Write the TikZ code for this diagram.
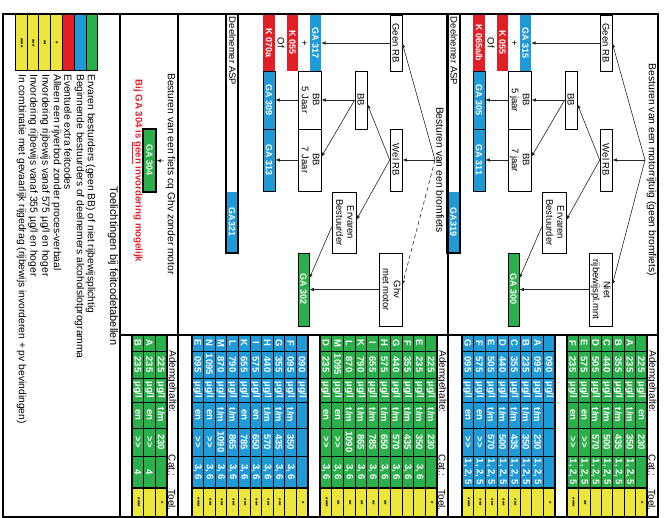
\documentclass[tikz,border=0pt]{standalone}
\usepackage{fontspec}
\setmainfont{Liberation Sans}
\usepackage{graphicx}
\usetikzlibrary{arrows.meta}
\definecolor{cgreen}{RGB}{42,176,74}
\definecolor{cblue}{RGB}{30,155,214}
\definecolor{cred}{RGB}{226,30,38}
\definecolor{cyel}{RGB}{236,230,58}
\definecolor{cnote}{RGB}{232,32,42}
\newcommand{\R}[1]{\rotatebox{-90}{#1}}
\newcommand{\RR}[2]{\rotatebox{-90}{\begin{tabular}{@{}c@{}}#1\\#2\end{tabular}}}
\newcommand{\ugl}{µg/l}
\newcommand{\tmm}{t/m}
\newcommand{\grt}{>{}>}
\newcommand{\cA}{1, 2, 5}
\newcommand{\cB}{3, 6}
\newcommand{\X}{}
\newcounter{rc}
\newcommand{\tR}{0}
\newcommand{\tw}{0}
\newcommand{\tcol}{cgreen}
\newcommand{\trow}[8]{%
 \stepcounter{rc}%
 \pgfmathsetmacro{\cx}{\tR-(#1-0.5)*\tw}%
 \fill[\tcol] ({\cx-\tw/2},335) rectangle ({\cx+\tw/2},488);
 \fill[cyel] ({\cx-\tw/2},488) rectangle ({\cx+\tw/2},517);
 \node[tc] (r\arabic{rc}a) at (\cx,343) {\R{#2}};
 \node[tc] (r\arabic{rc}b) at (\cx,364.5) {\R{#3}};
 \node[tc] (r\arabic{rc}c) at (\cx,390) {\R{#4}};
 \node[tc] (r\arabic{rc}d) at (\cx,415) {\R{#5}};
 \node[tc] (r\arabic{rc}e) at (\cx,442) {\R{#6}};
 \node[tc] (r\arabic{rc}f) at (\cx,472) {\R{#7}};
 \node[ts] (r\arabic{rc}g) at (\cx,502.5) {\R{#8}};
}
\newcommand{\tgrid}[3]{%
 \foreach \k in {0,...,#3} {\draw[gl] ({#1+\k*(#2-#1)/#3},335) -- ({#1+\k*(#2-#1)/#3},517);}
 \foreach \yy in {351,378,402,428,456} {\draw[gl] (#1,\yy) -- (#2,\yy);}
 \draw[gt] (#1,488) -- (#2,488);
 \draw[gt] (#1,335) rectangle (#2,517);
}
\newcommand{\thead}[2]{%
 \node[hd] (#1a) at (#2,381.5) {\R{Ademgehalte:}};
 \node[hd] (#1b) at (#2,465.5) {\R{Cat.:}};
 \node[hd] (#1c) at (#2,500) {\R{Toel.}};
}
\begin{document}
\begin{tikzpicture}[x=1pt,y=-1pt,
 bx/.style={draw=black, line width=0.6pt, fill=white, inner sep=0pt, font=\fontsize{9.5}{11}\selectfont},
 cellf/.style={inner sep=0pt, text=white, font=\bfseries\fontsize{9}{10}\selectfont},
 gcell/.style={cellf, fill=cgreen, draw=black, line width=0.5pt},
 bcell/.style={cellf, fill=cblue},
 rcell/.style={cellf, fill=cred},
 wcell/.style={inner sep=0pt, font=\fontsize{9.5}{11}\selectfont},
 arr/.style={-{Latex[length=4.5pt,width=3.5pt]}, line width=0.6pt, draw=black!85},
 frame/.style={line width=1.5pt},
 ttl/.style={font=\fontsize{10.3}{12}\selectfont, inner sep=0pt},
 tc/.style={inner sep=0pt, text=white, font=\bfseries\fontsize{9.5}{10}\selectfont},
 ts/.style={inner sep=0pt, font=\bfseries\fontsize{6}{7}\selectfont},
 hd/.style={inner sep=0pt, font=\fontsize{10}{12}\selectfont},
 gl/.style={line width=0.7pt},
 gt/.style={line width=1.2pt},
 lbar/.style={draw=black, line width=1pt, inner sep=0pt, font=\bfseries\fontsize{6}{7}\selectfont},
 lt/.style={anchor=north, inner sep=0pt, font=\fontsize{10.3}{12}\selectfont}
]
\useasboundingbox (0,0) rectangle (669,518);

% ================= motorrijtuig =================
\node[ttl] (mt) at (651.5,170) {\R{Besturen van een motorrijtuig (geen bromfiets)}};
\coordinate (mo) at (645,160);
\node[bx, minimum width=12, minimum height=56] (mgeen) at (606,43) {\R{Geen RB}};
\node[bx, minimum width=12, minimum height=62] (mwel) at (606,160) {\R{Wel RB}};
\node[bx, minimum width=12, minimum height=58] (mbb) at (571,100) {\R{BB}};
\node[bx, minimum width=24, minimum height=61] (merv) at (554,222.5) {\RR{Ervaren}{Bestuurder}};
\node[bx, minimum width=23, minimum height=73] (mniet) at (600.5,289.5) {\RR{Niet}{rijbewijspl.mnt}};
\node[gcell, minimum width=11, minimum height=73] (mga300) at (513.5,289.5) {\R{GA 300}};
\node[bx, minimum width=23, minimum height=58] (mbb5) at (519.5,100) {\RR{BB}{5 jaar}};
\node[bx, minimum width=23, minimum height=62] (mbb7) at (519.5,160) {\RR{BB}{7 jaar}};
\node[bcell, minimum width=11, minimum height=56] (mga315) at (525.5,43) {\R{GA 315}};
\node[wcell, minimum width=12, minimum height=56] (mplus) at (514,43) {\R{+}};
\node[rcell, minimum width=11, minimum height=56] (mk055) at (502.5,43) {\R{K 055}};
\node[wcell, minimum width=12, minimum height=56] (mof) at (491,43) {\R{Of}};
\node[rcell, minimum width=12, minimum height=56] (mk065) at (479,43) {\R{K 065a/b}};
\node[bcell, draw=black, line width=0.5pt, minimum width=12, minimum height=58] (mga305) at (479,100) {\R{GA 305}};
\node[bcell, draw=black, line width=0.5pt, minimum width=12, minimum height=62] (mga311) at (479,160) {\R{GA 311}};
\draw[arr] (mo) -- (mgeen.east);
\draw[arr] (mo) -- (mwel.east);
\draw[arr] (mo) -- ([yshift=4.5pt]mniet.east);
\draw[arr] (mgeen.west) -- (mga315.east);
\draw[arr] (mwel.west) -- ([yshift=-4pt]mbb.east);
\draw[arr] (mwel.west) -- ([yshift=2.5pt]merv.east);
\draw[arr] (mbb.west) -- (mbb5.east);
\draw[arr] (mbb.west) -- ([yshift=3pt]mbb7.east);
\draw[arr] (mbb5.west) -- (mga305.east);
\draw[arr] (mbb7.west) -- (mga311.east);
\draw[arr] ([yshift=-4.5pt]merv.west) -- ([yshift=11pt]mga300.east);
\draw[arr] (mniet.west) -- (mga300.east);
\node[bcell, minimum width=12, minimum height=60] (mga319) at (453.5,222) {\R{GA319}};
\node[draw, line width=1.3pt, minimum width=13, minimum height=239, inner sep=0pt] (mdn) at (453.5,133.5) {};
\node[wcell] (mdnt) at (454,51) {\R{Deelnemer ASP}};

% ================= bromfiets =================
\node[ttl] (bt) at (440,170) {\R{Besturen van een bromfiets}};
\coordinate (bo) at (435,160);
\node[bx, minimum width=12, minimum height=56] (bgeen) at (396,43) {\R{Geen RB}};
\node[bx, minimum width=12, minimum height=62] (bwel) at (396,160) {\R{Wel RB}};
\node[bx, minimum width=12, minimum height=58] (bbb) at (361,100) {\R{BB}};
\node[bx, minimum width=24, minimum height=61] (berv) at (344,222.5) {\RR{Ervaren}{Bestuurder}};
\node[bx, minimum width=23, minimum height=73] (bghv) at (390.5,289.5) {\RR{Ghv}{met motor}};
\node[gcell, minimum width=11, minimum height=73] (bga302) at (303.5,289.5) {\R{GA 302}};
\node[bx, minimum width=23, minimum height=58] (bbb5) at (309.5,100) {\RR{BB}{5 Jaar}};
\node[bx, minimum width=23, minimum height=62] (bbb7) at (309.5,160) {\RR{BB}{7 Jaar}};
\node[bcell, minimum width=11, minimum height=56] (bga317) at (315.5,43) {\R{GA 317}};
\node[wcell, minimum width=12, minimum height=56] (bplus) at (304,43) {\R{+}};
\node[rcell, minimum width=11, minimum height=56] (bk055) at (292.5,43) {\R{K 055}};
\node[wcell, minimum width=12, minimum height=56] (bof) at (281,43) {\R{Of}};
\node[rcell, minimum width=12, minimum height=56] (bk070) at (269,43) {\R{K 070a}};
\node[bcell, draw=black, line width=0.5pt, minimum width=12, minimum height=58] (bga309) at (269,100) {\R{GA 309}};
\node[bcell, draw=black, line width=0.5pt, minimum width=12, minimum height=62] (bga313) at (269,160) {\R{GA 313}};
\draw[arr] (bo) -- (bgeen.east);
\draw[arr] (bo) -- (bwel.east);
\draw[arr, dashed, dash pattern=on 4pt off 3pt] (bo) -- ([yshift=4.5pt]bghv.east);
\draw[arr] (bgeen.west) -- (bga317.east);
\draw[arr] (bwel.west) -- ([yshift=-4pt]bbb.east);
\draw[arr] (bwel.west) -- ([yshift=2.5pt]berv.east);
\draw[arr] (bbb.west) -- (bbb5.east);
\draw[arr] (bbb.west) -- ([yshift=3pt]bbb7.east);
\draw[arr] (bbb5.west) -- (bga309.east);
\draw[arr] (bbb7.west) -- (bga313.east);
\draw[arr] ([yshift=-4.5pt]berv.west) -- ([yshift=11pt]bga302.east);
\draw[arr] (bghv.west) -- (bga302.east);
\node[bcell, minimum width=11, minimum height=60] (bga321) at (232,222) {\R{GA321}};
\node[draw, line width=1.3pt, minimum width=12, minimum height=239, inner sep=0pt] (bdn) at (232,133.5) {};
\node[wcell] (bdnt) at (232.5,51) {\R{Deelnemer ASP}};

% ================= fiets =================
\node[ttl] (ft) at (170.5,174) {\R{Besturen van een fiets cq Ghv zonder motor}};
\coordinate (fo) at (164,161);
\node[gcell, line width=1.3pt, minimum width=13, minimum height=63] (fga304) at (149.5,160.5) {\R{GA 304}};
\draw[arr] (fo) -- (fga304.east);
\node[text=cnote, font=\bfseries\fontsize{9.7}{11}\selectfont, inner sep=0pt] (fnote) at (137,171) {\R{Bij GA 304 is \underline{geen} invordering mogelijk}};

% ================= tables =================
% motor green
\renewcommand{\tR}{647}\renewcommand{\tw}{11.43}\renewcommand{\tcol}{cgreen}
\trow{1}{\X}{225}{\ugl}{en}{230}{\X}{*}
\trow{2}{A}{235}{\ugl}{\tmm}{350}{\cA}{\X}
\trow{3}{B}{355}{\ugl}{\tmm}{435}{\cA}{\X}
\trow{4}{C}{440}{\ugl}{\tmm}{500}{\cA}{\X}
\trow{5}{D}{505}{\ugl}{\tmm}{570}{\cA}{\X}
\trow{6}{E}{575}{\ugl}{en}{\grt}{\cA}{**}
\trow{7}{F}{235}{\ugl}{en}{\grt}{\cA}{****}
\tgrid{567}{647}{7}
\thead{mh}{652}
% motor blue
\renewcommand{\tR}{555}\renewcommand{\tw}{11.625}\renewcommand{\tcol}{cblue}
\trow{1}{\X}{090}{\ugl}{\X}{\X}{\X}{*}
\trow{2}{A}{095}{\ugl}{\tmm}{230}{\cA}{\X}
\trow{3}{B}{235}{\ugl}{\tmm}{350}{\cA}{\X}
\trow{4}{C}{355}{\ugl}{\tmm}{435}{\cA}{***}
\trow{5}{D}{440}{\ugl}{\tmm}{500}{\cA}{***}
\trow{6}{E}{505}{\ugl}{\tmm}{570}{\cA}{***}
\trow{7}{F}{575}{\ugl}{en}{\grt}{\cA}{***}
\trow{8}{G}{095}{\ugl}{en}{\grt}{\cA}{****}
\tgrid{462}{555}{8}
% bromfiets green
\renewcommand{\tR}{437}\renewcommand{\tw}{11.7}\renewcommand{\tcol}{cgreen}
\trow{1}{\X}{225}{\ugl}{\tmm}{230}{\X}{*}
\trow{2}{E}{235}{\ugl}{\tmm}{350}{\cB}{\X}
\trow{3}{F}{355}{\ugl}{\tmm}{435}{\cB}{\X}
\trow{4}{G}{440}{\ugl}{\tmm}{570}{\cB}{\X}
\trow{5}{H}{575}{\ugl}{\tmm}{650}{\cB}{**}
\trow{6}{I}{655}{\ugl}{\tmm}{785}{\cB}{**}
\trow{7}{K}{790}{\ugl}{\tmm}{865}{\cB}{**}
\trow{8}{L}{870}{\ugl}{\tmm}{1090}{\cB}{**}
\trow{9}{M}{1095}{\ugl}{en}{\grt}{\cB}{**}
\trow{10}{D}{235}{\ugl}{en}{\grt}{\cB}{****}
\tgrid{320}{437}{10}
\thead{bh}{442}
% bromfiets blue
\renewcommand{\tR}{308}\renewcommand{\tw}{11.6}\renewcommand{\tcol}{cblue}
\trow{1}{\X}{090}{\ugl}{\X}{\X}{\X}{*}
\trow{2}{F}{095}{\ugl}{\tmm}{350}{\cB}{\X}
\trow{3}{G}{355}{\ugl}{\tmm}{435}{\cB}{***}
\trow{4}{H}{440}{\ugl}{\tmm}{570}{\cB}{***}
\trow{5}{I}{575}{\ugl}{en}{650}{\cB}{***}
\trow{6}{K}{655}{\ugl}{en}{785}{\cB}{***}
\trow{7}{L}{790}{\ugl}{\tmm}{865}{\cB}{***}
\trow{8}{M}{870}{\ugl}{\tmm}{1090}{\cB}{***}
\trow{9}{N}{1095}{\ugl}{en}{\grt}{\cB}{***}
\trow{10}{E}{095}{\ugl}{en}{\grt}{\cB}{****}
\tgrid{192}{308}{10}
% fiets green
\renewcommand{\tR}{167}\renewcommand{\tw}{11.67}\renewcommand{\tcol}{cgreen}
\trow{1}{\X}{225}{\ugl}{\tmm}{230}{\X}{*}
\trow{2}{A}{235}{\ugl}{en}{\grt}{4}{\X}
\trow{3}{B}{235}{\ugl}{en}{\grt}{4}{****}
\tgrid{132}{167}{3}
\thead{fh}{172}

% ================= legend =================
\node[font=\fontsize{11}{13}\selectfont, inner sep=0pt] (ltt) at (113,266) {\R{Toelichtingen bij feitcodetabellen}};
\node[lbar, fill=cgreen, minimum width=11, minimum height=56] (lb1) at (91.5,43) {};
\node[lbar, fill=cblue, minimum width=12, minimum height=56] (lb2) at (80,43) {};
\node[lbar, fill=cred, minimum width=12, minimum height=56] (lb3) at (68,43) {};
\node[lbar, fill=cyel, minimum width=12, minimum height=56] (lb4) at (56,43) {\R{*}};
\node[lbar, fill=cyel, minimum width=12, minimum height=56] (lb5) at (44,43) {\R{**}};
\node[lbar, fill=cyel, minimum width=11, minimum height=56] (lb6) at (32.5,43) {\R{***}};
\node[lbar, fill=cyel, minimum width=12, minimum height=56] (lb7) at (21,43) {\R{****}};
\node[lt] (lx1) at (90.5,74) {\R{Ervaren besturders (geen BB) of niet rijbewijsplichtig}};
\node[lt] (lx2) at (79.5,74) {\R{Beginnende bestuurders of deelnemers alcoholslotprogramma}};
\node[lt] (lx3) at (68,74) {\R{Eventuele extra feitcodes}};
\node[lt] (lx4) at (56.5,74) {\R{Alleen een rijverbod zonder proces-verbaal}};
\node[lt] (lx5) at (45,74) {\R{Invordering rijbewijs vanaf 575 µg/l en hoger}};
\node[lt] (lx6) at (33,74) {\R{Invordering rijbewijs vanaf 355 µg/l en hoger}};
\node[lt] (lx7) at (21.5,74) {\R{In combinatie met gevaarlijk rijgedrag (rijbewijs invorderen + pv bevindingen)}};

% ================= frame =================
\draw[frame] (3,14) rectangle (658,517);
\draw[frame] (120,14) -- (120,517);
\draw[frame] (178,14) -- (178,517);
\draw[frame] (448,14) -- (448,517);
\draw[frame] (120,335) -- (658,335);
\end{tikzpicture}
\end{document}
